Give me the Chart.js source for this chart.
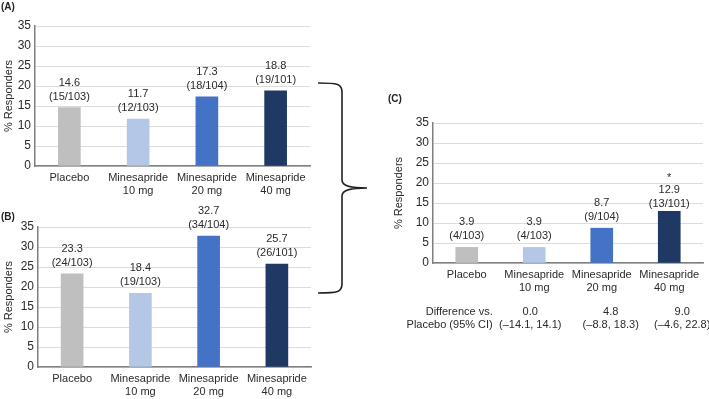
<!DOCTYPE html>
<html>
<head>
<meta charset="utf-8">
<script src="https://cdn.jsdelivr.net/npm/chart.js@4.4.0/dist/chart.umd.min.js"></script>
<style>
  body { margin: 0; background: #fff; font-family: "Liberation Sans", Arial, sans-serif; }
  #wrap { position: relative; width: 709px; height: 399px; overflow: hidden; }
  .box { position: absolute; }
  .tag { position: absolute; font-weight: bold; font-size: 10px; color: #222; }
  svg { position: absolute; left: 0; top: 0; }
</style>
</head>
<body>
<div id="wrap">
  <div class="box" style="left:0;top:1px;width:322px;height:200px"><canvas id="chartA"></canvas></div>
  <div class="box" style="left:0;top:200px;width:322px;height:199px"><canvas id="chartB"></canvas></div>
  <div class="box" style="left:390px;top:97px;width:319px;height:241px"><canvas id="chartC"></canvas></div>
  <div class="tag" style="left:1px;top:1px">(A)</div>
  <div class="tag" style="left:1px;top:211px">(B)</div>
  <div class="tag" style="left:388px;top:93px">(C)</div>
  <svg width="709" height="399">
    <path d="M318 83 C338 83 342 84 342 92 L342 180 C342 186 350 188 367 188 C350 188 342 190 342 196 L342 284 C342 292 338 293 318 293"
          fill="none" stroke="#222" stroke-width="1.6"/>
  </svg>
</div>
<script>
const groups = ['Placebo', ['Minesapride', '10 mg'], ['Minesapride', '20 mg'], ['Minesapride', '40 mg']];
const barColors = ['#bfbfbf', '#b4c7e7', '#4472c4', '#1f3864'];

const valuesA = [14.6, 11.7, 17.3, 18.8];
const countsA = ['(15/103)', '(12/103)', '(18/104)', '(19/101)'];

const valuesB = [23.3, 18.4, 32.7, 25.7];
const countsB = ['(24/103)', '(19/103)', '(34/104)', '(26/101)'];

const valuesC = [3.9, 3.9, 8.7, 12.9];
const countsC = ['(4/103)', '(4/103)', '(9/104)', '(13/101)'];
const starsC = ['', '', '', '*'];

const diffHead = ['Difference vs.', 'Placebo (95% CI)'];
const diffValues = ['', '0.0', '4.8', '9.0'];
const diffCI = ['', '(\u201314.1, 14.1)', '(\u20138.8, 18.3)', '(\u20134.6, 22.8)'];

const FAMILY = '"Liberation Sans", Arial, sans-serif';
const FONT = { family: FAMILY, size: 11 };
const TEXT = '#2b2b2b';

// value + count labels above the bars
const barLabels = {
  id: 'barLabels',
  afterDatasetsDraw(chart, args, opts) {
    const ctx = chart.ctx;
    const meta = chart.getDatasetMeta(0);
    ctx.save();
    ctx.font = '11px ' + FAMILY;
    ctx.fillStyle = TEXT;
    ctx.textAlign = 'center';
    meta.data.forEach((bar, i) => {
      const v = chart.data.datasets[0].data[i];
      const lift = opts.stars && opts.stars[i] ? 4 : 0;
      ctx.fillText(opts.counts[i], bar.x, bar.y - 8 + lift);
      ctx.fillText(v.toFixed(1), bar.x, bar.y - 22 + lift);
      if (opts.stars && opts.stars[i]) ctx.fillText(opts.stars[i], bar.x, bar.y - 30);
    });
    ctx.restore();
  }
};

// difference row under panel C
const diffRow = {
  id: 'diffRow',
  afterDraw(chart, args, opts) {
    if (!opts.show) return;
    const ctx = chart.ctx;
    const x = chart.scales.x;
    const y1 = chart.chartArea.bottom + 52;
    const y2 = y1 + 13;
    const shift = [26, -4, 9, 13];
    ctx.save();
    ctx.font = '11px ' + FAMILY;
    ctx.fillStyle = TEXT;
    ctx.textAlign = 'right';
    const x0 = x.getPixelForValue(0) + shift[0];
    ctx.fillText(diffHead[0], x0, y1);
    ctx.fillText(diffHead[1], x0, y2);
    ctx.textAlign = 'center';
    for (let i = 1; i < diffValues.length; i++) {
      const cx = x.getPixelForValue(i) + shift[i];
      ctx.fillText(diffValues[i], cx, y1);
      ctx.fillText(diffCI[i], cx, y2);
    }
    ctx.restore();
  }
};

function makeChart(id, values, counts, stars, padding, yWidth, xHeight, showDiff) {
  return new Chart(document.getElementById(id), {
    type: 'bar',
    data: {
      labels: groups,
      datasets: [{
        data: values,
        backgroundColor: barColors,
        barThickness: 22
      }]
    },
    options: {
      responsive: true,
      maintainAspectRatio: false,
      animation: false,
      layout: { padding: padding },
      plugins: {
        legend: { display: false },
        tooltip: { enabled: false },
        barLabels: { counts: counts, stars: stars },
        diffRow: { show: showDiff }
      },
      scales: {
        x: {
          grid: { display: false, drawTicks: false },
          border: { color: '#7f7f7f', width: 1.5 },
          ticks: { color: TEXT, font: FONT, padding: 5, maxRotation: 0, autoSkip: false },
          afterFit(scale) { scale.height = xHeight; }
        },
        y: {
          min: 0,
          max: 35,
          ticks: { stepSize: 5, color: TEXT, font: { family: FAMILY, size: 12 }, padding: 4 },
          grid: { color: '#dcdcdc', drawTicks: false },
          border: { color: '#7f7f7f', width: 1.5 },
          title: { display: true, text: '% Responders', color: TEXT, font: FONT, padding: 2 },
          afterFit(scale) { scale.width = yWidth; }
        }
      }
    },
    plugins: [barLabels, diffRow]
  });
}

makeChart('chartA', valuesA, countsA, null, { top: 25, right: 12, left: 0, bottom: 0 }, 35, 35, false);
makeChart('chartB', valuesB, countsB, null, { top: 27, right: 11, left: 0, bottom: 0 }, 38, 32, false);
makeChart('chartC', valuesC, countsC, starsC, { top: 26, right: 6, left: 0, bottom: 40 }, 43, 35, true);
</script>
</body>
</html>
